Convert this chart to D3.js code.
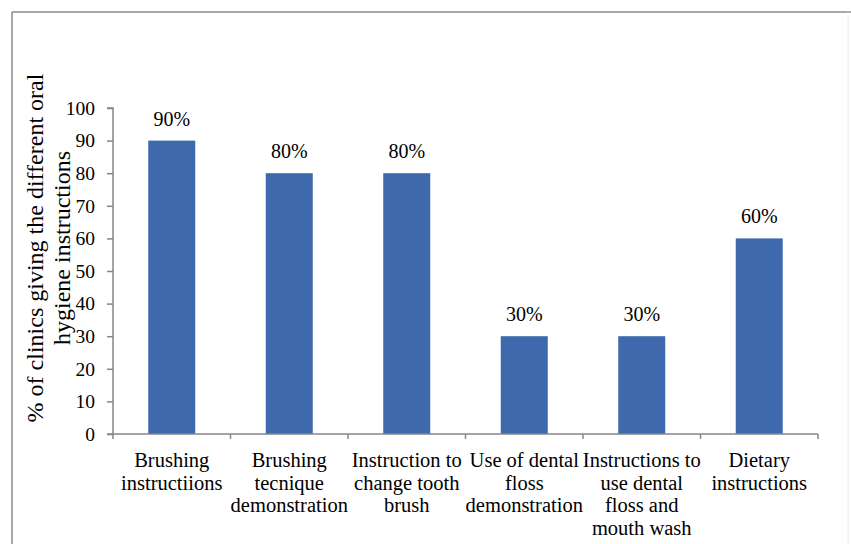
<!DOCTYPE html>
<html>
<head>
<meta charset="utf-8">
<script src="https://cdn.jsdelivr.net/npm/d3@7"></script>
<style>
body { margin: 0; background: #fff; }
svg text { font-family: "Liberation Serif", "DejaVu Serif", serif; fill: #000; }
</style>
</head>
<body>
<svg id="chart" width="851" height="544"></svg>
<script>
var categories = [
	["Brushing", "instructiions"],
	["Brushing", "tecnique", "demonstration"],
	["Instruction to", "change tooth", "brush"],
	["Use of dental", "floss", "demonstration"],
	["Instructions to", "use dental", "floss and", "mouth wash"],
	["Dietary", "instructions"]
];
var values = [90, 80, 80, 30, 30, 60];
var yTicks = [0, 10, 20, 30, 40, 50, 60, 70, 80, 90, 100];
var yTitle = ["% of clinics giving the different oral", "hygiene instructions"];

function drawChart() {
	var svg = d3.select("#chart");
	var serif = "'Liberation Serif', 'DejaVu Serif', serif";
	var left = 113, right = 818, plotTop = 108, bottom = 434;
	var axisColor = "#868686";

	// outer frame: top and left dark grey, right one very faint
	svg.append("line")
		.attr("x1", 12).attr("x2", 851).attr("y1", 12).attr("y2", 12)
		.attr("stroke", "#8a8a8a").attr("stroke-width", 1.5);
	svg.append("line")
		.attr("x1", 12).attr("x2", 12).attr("y1", 12).attr("y2", 544)
		.attr("stroke", "#8a8a8a").attr("stroke-width", 1.5);
	svg.append("line")
		.attr("x1", 848).attr("x2", 848).attr("y1", 12).attr("y2", 544)
		.attr("stroke", "#ececec").attr("stroke-width", 1);

	var xScale = d3.scaleBand()
		.domain(d3.range(values.length))
		.range([left, right])
		.paddingInner(0.6).paddingOuter(0.3);

	var yScale = d3.scaleLinear()
		.domain([0, 100])
		.range([bottom, plotTop]);

	// bars
	svg.selectAll(".bar")
		.data(values)
		.enter().append("rect")
		.attr("class", "bar")
		.attr("x", function (d, i) { return xScale(i); })
		.attr("y", function (d) { return yScale(d); })
		.attr("width", xScale.bandwidth())
		.attr("height", function (d) { return yScale(0) - yScale(d); })
		.attr("fill", "#3e69ad");

	// value labels
	svg.selectAll(".val")
		.data(values)
		.enter().append("text")
		.attr("class", "val")
		.attr("x", function (d, i) { return xScale(i) + xScale.bandwidth() / 2; })
		.attr("y", function (d) { return yScale(d) - 15; })
		.attr("text-anchor", "middle")
		.style("font-family", serif)
		.style("font-size", "20px")
		.text(function (d) { return d + "%"; });

	// y axis
	var yAxis = d3.axisLeft(yScale).tickValues(yTicks).tickSize(6).tickPadding(12);
	var gy = svg.append("g").attr("transform", "translate(" + left + ",0)").call(yAxis);
	gy.selectAll("text").style("font-size", "19.5px").style("font-family", serif).attr("fill", "#000");
	gy.selectAll("line, path").attr("stroke", axisColor).attr("stroke-width", 1.5);
	gy.select(".domain").attr("d", "M-6," + plotTop + "H0V" + bottom + "H-6");

	// x axis: ticks on band boundaries
	var bounds = d3.range(values.length + 1).map(function (i) { return left + i * (right - left) / values.length; });
	svg.append("line")
		.attr("x1", left).attr("x2", right)
		.attr("y1", bottom).attr("y2", bottom)
		.attr("stroke", axisColor).attr("stroke-width", 1.5);
	svg.selectAll(".xtick")
		.data(bounds)
		.enter().append("line")
		.attr("class", "xtick")
		.attr("x1", function (d) { return d; }).attr("x2", function (d) { return d; })
		.attr("y1", bottom).attr("y2", bottom + 5)
		.attr("stroke", axisColor).attr("stroke-width", 1.5);

	// category labels
	var catText = svg.selectAll(".cat")
		.data(categories)
		.enter().append("text")
		.attr("class", "cat")
		.attr("text-anchor", "middle")
		.style("font-family", serif)
		.style("font-size", "20.5px");
	catText.each(function (lines, i) {
		var cx = xScale(i) + xScale.bandwidth() / 2;
		d3.select(this).selectAll("tspan")
			.data(lines)
			.enter().append("tspan")
			.attr("x", cx)
			.attr("y", function (d, j) { return 467 + j * 22.5; })
			.text(function (d) { return d; });
	});

	// y title
	var cy = 248;
	svg.selectAll(".ytitle")
		.data(yTitle)
		.enter().append("text")
		.attr("class", "ytitle")
		.attr("transform", function (d, i) { return "translate(" + (43 + i * 27) + "," + cy + ") rotate(-90)"; })
		.attr("text-anchor", "middle")
		.style("font-family", serif)
		.style("font-size", "24px")
		.text(function (d) { return d; });
}

drawChart();
</script>
</body>
</html>
